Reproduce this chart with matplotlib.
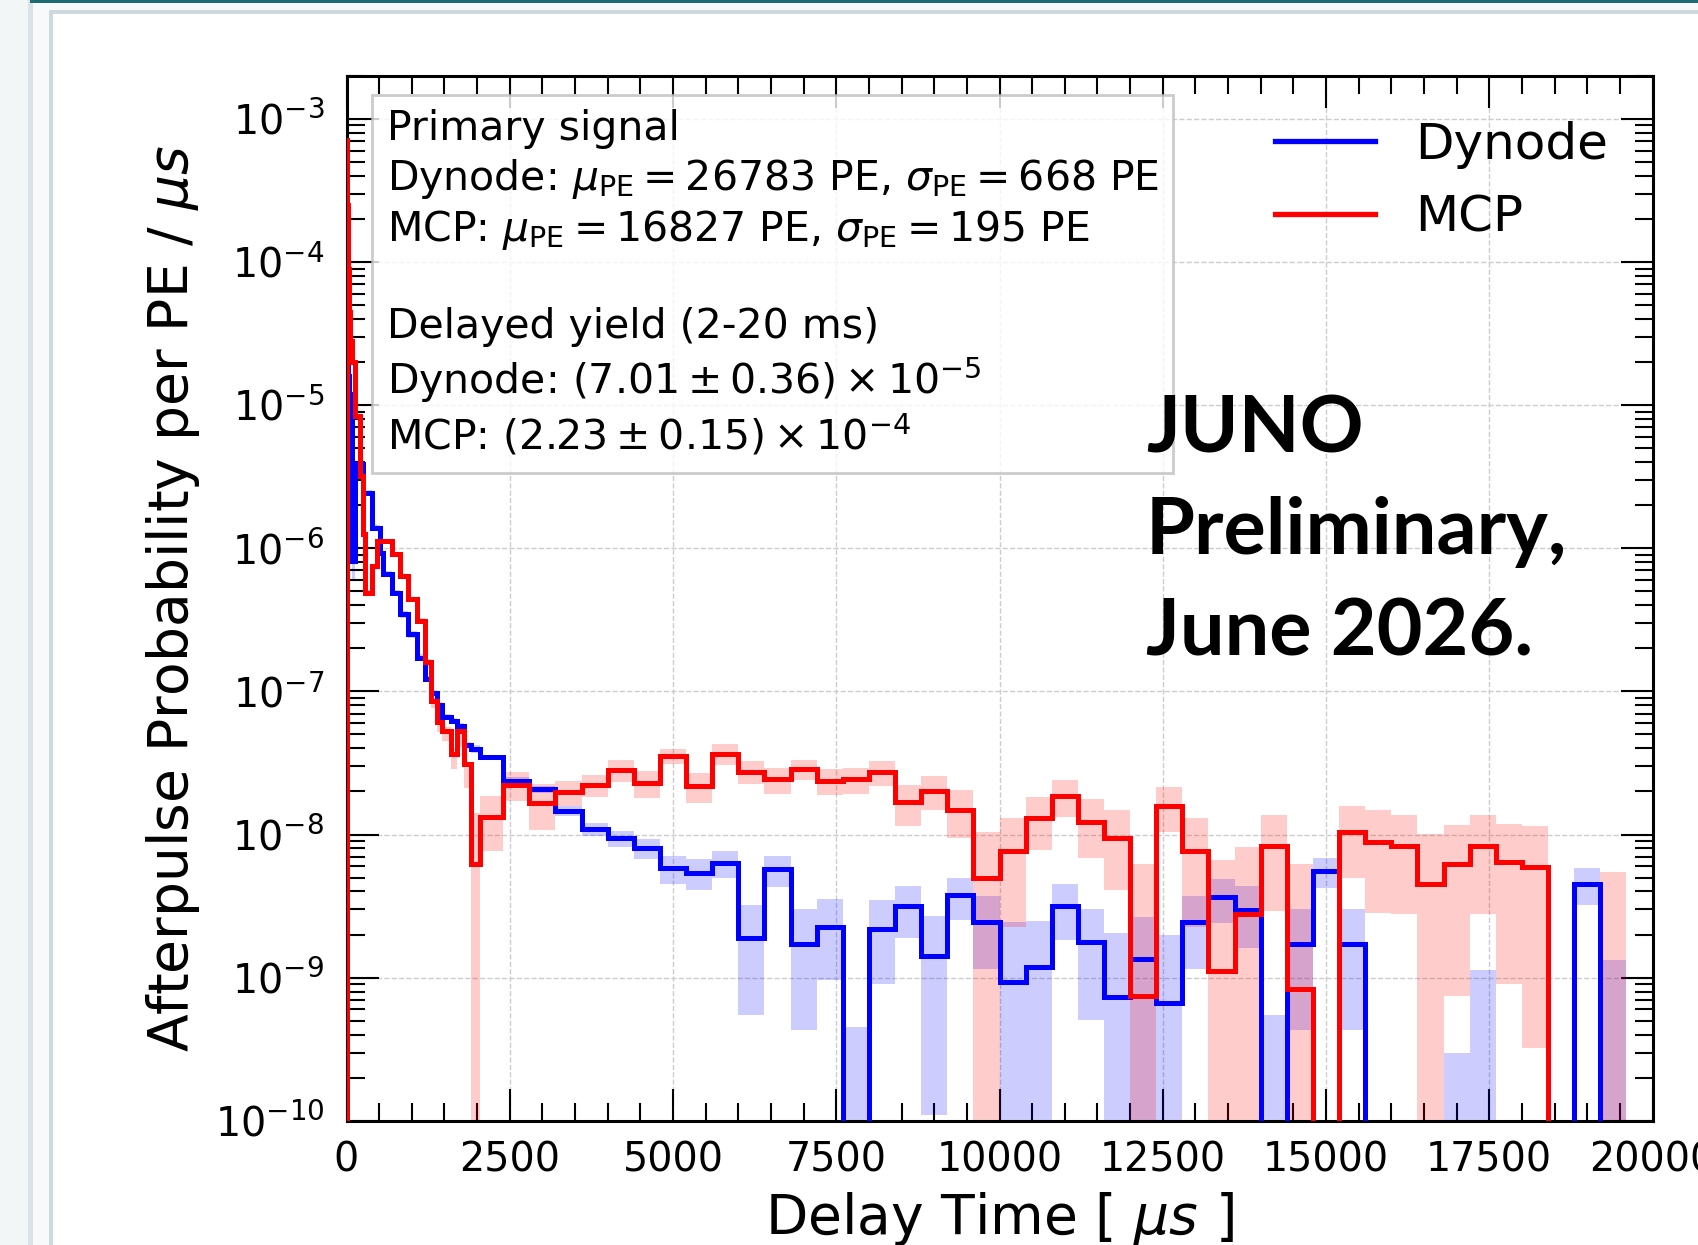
import numpy as np
import matplotlib
matplotlib.use("Agg")
import matplotlib.pyplot as plt
from matplotlib.patches import Rectangle
from matplotlib.lines import Line2D

# ---------------- data ----------------
early_edges = [0, 12, 25, 40, 55, 80, 130, 207, 258, 290, 385, 461, 512, 565, 692,
               820, 948, 1076, 1204, 1295, 1385, 1461, 1600, 1690, 1800, 1908, 2048, 2400]
late_edges = list(range(2800, 20001, 400))
bin_edges = early_edges + late_edges

mcp_vals = [7.3e-4, 2.5e-4, 9.0e-5, 4.5e-5, 2.8e-5, 2.0e-5, 8.4e-6, 3.2e-6, 1.25e-6, 4.9e-7,
            7.5e-7, 1.12e-6, 1.12e-6, 1.12e-6, 9.1e-7, 6.4e-7, 4.4e-7, 3.1e-7, 1.6e-7, 8.6e-8,
            6.1e-8, 5.3e-8, 3.65e-8, 5.3e-8, 3.1e-8, 6.2e-9, 1.32e-8, 2.22e-8, 1.67e-8, 1.98e-8,
            2.22e-8, 2.82e-8, 2.29e-8, 3.54e-8, 2.17e-8, 3.68e-8, 2.75e-8, 2.43e-8, 2.87e-8, 2.38e-8,
            2.43e-8, 2.72e-8, 1.68e-8, 2.03e-8, 1.49e-8, 5.0e-9, 7.66e-9, 1.31e-8, 1.87e-8, 1.23e-8,
            9.5e-9, 7.5e-10, 1.59e-8, 7.66e-9, 1.11e-9, 2.77e-9, 8.3e-9, 8.4e-10, -6e-9, 1.04e-8,
            8.83e-9, 8.28e-9, 4.53e-9, 6.24e-9, 8.28e-9, 6.41e-9, 5.92e-9, -6e-9, -6e-9, -4e-11,
            -6e-9]
mcp_err_lo = [2e-5, 8e-6, 3e-6, 1.5e-6, 1e-6, 6e-7, 3e-7, 1.2e-7, 5e-8, 2.5e-8,
              3e-8, 4e-8, 4e-8, 3.5e-8, 3e-8, 2.5e-8, 2e-8, 1.5e-8, 1.5e-8, 9e-9,
              9e-9, 8e-9, 8e-9, 1.2e-8, 1e-8, 8e-9, 5.5e-9, 5e-9, 6e-9, 4e-9,
              4e-9, 5e-9, 5e-9, 4.5e-9, 5e-9, 6e-9, 5e-9, 5e-9, 4.5e-9, 5e-9,
              5e-9, 5.3e-9, 5.3e-9, 5.5e-9, 5.5e-9, 5.5e-9, 5.4e-9, 5.3e-9, 5.4e-9, 5.4e-9,
              5.4e-9, 5.5e-9, 5.5e-9, 5.4e-9, 5.5e-9, 5.4e-9, 5.4e-9, 5.4e-9, 5.5e-9, 5.4e-9,
              6e-9, 5.5e-9, 5.6e-9, 5.5e-9, 5.5e-9, 5.5e-9, 5.6e-9, 5.5e-9, 5.5e-9, 5.5e-9,
              5.5e-9]
mcp_err_hi = [2e-5, 8e-6, 3e-6, 1.5e-6, 1e-6, 6e-7, 3e-7, 1.2e-7, 5e-8, 2.5e-8,
              3e-8, 4e-8, 4e-8, 3.5e-8, 3e-8, 2.5e-8, 2e-8, 1.5e-8, 8e-9, 4e-9,
              5e-9, 3e-9, 4e-9, 3e-9, 1e-9, 8e-9, 5.5e-9, 5e-9, 6e-9, 4e-9,
              4e-9, 5e-9, 5e-9, 4.5e-9, 5e-9, 6e-9, 5e-9, 5e-9, 4.5e-9, 5e-9,
              5e-9, 5.3e-9, 5.3e-9, 5.5e-9, 5.5e-9, 5.5e-9, 5.4e-9, 5.3e-9, 5.4e-9, 5.4e-9,
              5.4e-9, 5.5e-9, 5.5e-9, 5.4e-9, 5.5e-9, 5.4e-9, 5.4e-9, 5.4e-9, 5.5e-9, 5.4e-9,
              6e-9, 5.5e-9, 5.6e-9, 5.5e-9, 5.5e-9, 5.5e-9, 5.6e-9, 5.5e-9, 5.5e-9, 5.5e-9,
              5.5e-9]

dynode_vals = [1.9e-5, 1.9e-5, 1.6e-5, 1.2e-5, 1.0e-5, 8.1e-7, 3.85e-6, 3.85e-6, 2.44e-6, 2.44e-6,
               1.39e-6, 1.39e-6, 9.3e-7, 6.6e-7, 4.9e-7, 3.46e-7, 2.5e-7, 1.72e-7, 1.22e-7, 9.8e-8,
               8.1e-8, 6.6e-8, 6.2e-8, 5.75e-8, 4.2e-8, 3.96e-8, 3.46e-8, 2.38e-8, 2.08e-8, 1.47e-8,
               1.09e-8, 9.4e-9, 8.0e-9, 5.8e-9, 5.4e-9, 6.35e-9, 1.89e-9, 5.7e-9, 1.73e-9, 2.26e-9,
               -8.5e-10, 2.2e-9, 3.15e-9, 1.41e-9, 3.76e-9, 2.45e-9, 9.3e-10, 1.19e-9, 3.15e-9, 1.77e-9,
               7.3e-10, 1.34e-9, 6.6e-10, 2.45e-9, 3.66e-9, 2.98e-9, -7.5e-10, 1.73e-9, 5.55e-9, 1.73e-9,
               -1.3e-9, -1.3e-9, -1.3e-9, -1.0e-9, -1.6e-10, -1.3e-9, -1.3e-9, -1.3e-9, 4.53e-9, -1e-11,
               -1.3e-9]
dynode_err = [1e-6, 1e-6, 1e-6, 8e-7, 6e-7, 2e-7, 2e-7, 2e-7, 1.5e-7, 1.2e-7,
              8e-8, 7e-8, 5e-8, 3e-8, 2.5e-8, 2e-8, 1.5e-8, 1e-8, 6e-9, 5e-9,
              4e-9, 3e-9, 3e-9, 3e-9, 2.5e-9, 2.5e-9, 1.5e-9, 1.3e-9, 1.2e-9, 1.2e-9,
              1.2e-9, 1.2e-9, 1.3e-9, 1.3e-9, 1.3e-9, 1.38e-9, 1.34e-9, 1.4e-9, 1.3e-9, 1.3e-9,
              1.3e-9, 1.3e-9, 1.25e-9, 1.3e-9, 1.23e-9, 1.3e-9, 1.5e-9, 1.3e-9, 1.33e-9, 1.26e-9,
              1.32e-9, 1.31e-9, 1.32e-9, 1.3e-9, 1.25e-9, 1.36e-9, 1.3e-9, 1.3e-9, 1.3e-9, 1.3e-9,
              1.3e-9, 1.3e-9, 1.3e-9, 1.3e-9, 1.3e-9, 1.3e-9, 1.3e-9, 1.3e-9, 1.33e-9, 1.33e-9,
              1.3e-9]

series_labels = ["Dynode", "MCP"]
x_ticks = [0, 2500, 5000, 7500, 10000, 12500, 15000, 17500, 20000]

info_text = ("Primary signal\n"
             r"Dynode: $\mu_{\rm PE} = 26783$ PE, $\sigma_{\rm PE} = 668$ PE" "\n"
             r"MCP: $\mu_{\rm PE} = 16827$ PE, $\sigma_{\rm PE} = 195$ PE" "\n\n"
             "Delayed yield (2-20 ms)\n"
             r"Dynode: $(7.01 \pm 0.36) \times 10^{-5}$" "\n"
             r"MCP: $(2.23 \pm 0.15) \times 10^{-4}$")
juno_text = "JUNO\nPreliminary,\nJune 2026."

# ---------------- figure ----------------
W, H = 1698, 1245
fig = plt.figure(figsize=(W / 100, H / 100), dpi=100)
fig.patch.set_facecolor("#f7f9fa")


def px_rect(x0, y0, x1, y1, color):
    fig.add_artist(Rectangle((x0 / W, 1 - y1 / H), (x1 - x0) / W, (y1 - y0) / H,
                             transform=fig.transFigure, facecolor=color, lw=0, zorder=-10))


px_rect(0, 0, 28, H, "#f3f6f7")
px_rect(28, 0, 33, H, "#d9e2e5")
px_rect(30, 0, W, 3, "#1e6b74")
px_rect(49, 10, W, H, "#cdd9dd")
px_rect(53, 14, W, H, "white")

ax = fig.add_axes([346.5 / W, 1 - 1120.8 / H, 1306 / W, 1045 / H])
ax.set_facecolor("white")

edges = np.array(bin_edges, dtype=float)
floor = 1e-13
colors = {"Dynode": "#0000ff", "MCP": "#ff0000"}

for name, vals, elo, ehi in [("Dynode", dynode_vals, dynode_err, dynode_err),
                             ("MCP", mcp_vals, mcp_err_lo, mcp_err_hi)]:
    v = np.array(vals)
    lo = np.clip(v - np.array(elo), floor, None)
    hi = np.clip(v + np.array(ehi), floor, None)
    ax.fill_between(edges, np.append(lo, lo[-1]), np.append(hi, hi[-1]), step="post",
                    color=colors[name], alpha=0.2, lw=0, zorder=1)

for name, vals in [("Dynode", dynode_vals), ("MCP", mcp_vals)]:
    v = np.clip(np.array(vals), floor, None)
    ax.stairs(v, edges, baseline=floor, color=colors[name], lw=3.6, zorder=3)

ax.set_yscale("log")
ax.set_xlim(0, 20000)
ax.set_ylim(1e-10, 2e-3)
ax.set_xticks(x_ticks)
ax.set_xticklabels([str(t) for t in x_ticks])
ax.xaxis.set_minor_locator(matplotlib.ticker.MultipleLocator(500))
ax.yaxis.set_major_locator(matplotlib.ticker.LogLocator(base=10, numticks=20))
ax.yaxis.set_minor_locator(matplotlib.ticker.LogLocator(base=10, subs=np.arange(2, 10), numticks=20))

ax.tick_params(which="both", direction="in", top=True, right=True, width=1.5, labelsize=28.5)
ax.tick_params(which="major", length=23)
ax.tick_params(which="minor", length=13)
ax.tick_params(axis="x", which="major", pad=14)
ax.tick_params(axis="y", which="major", pad=16)
for s in ax.spines.values():
    s.set_linewidth(2.2)

ax.grid(True, which="major", ls="--", color="#cccccc", lw=1.0)
ax.set_axisbelow(True)

ax.set_xlabel(r"Delay Time [ $\mu s$ ]", fontsize=39.7, labelpad=7)
ax.set_ylabel(r"Afterpulse Probability per PE / $\mu s$", fontsize=39.7, labelpad=9)

ax.text(0.0307, 0.968, info_text, transform=ax.transAxes, va="top", ha="left",
        fontsize=29.5, linespacing=1.23, zorder=5,
        bbox=dict(boxstyle="square,pad=0.35", facecolor="white", edgecolor="0.75",
                  lw=2, alpha=0.8))

ax.text(0.612, 0.6955, juno_text, transform=ax.transAxes, va="top", ha="left",
        fontsize=57, fontweight="bold", family=["Lato", "DejaVu Sans"], linespacing=1.515,
        zorder=6)

handles = [Line2D([], [], color=colors[n], lw=3.8) for n in series_labels]
ax.legend(handles, series_labels, loc="upper right", fontsize=36, frameon=False,
          handlelength=2.0)

fig.savefig("out.png", dpi=100)
